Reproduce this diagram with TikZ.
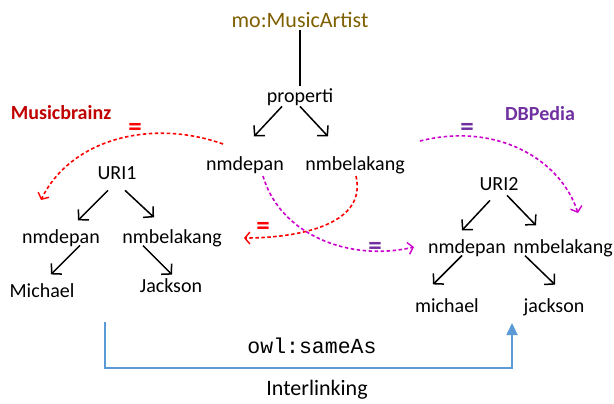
\documentclass[tikz,border=0pt]{standalone}
\usepackage{fontspec}
\setmainfont{Carlito}
\setmonofont{Liberation Mono}
\usetikzlibrary{arrows.meta}
\definecolor{olive}{RGB}{127,96,0}
\definecolor{mbred}{RGB}{192,0,0}
\definecolor{dbpurple}{RGB}{112,48,160}
\definecolor{linkblue}{RGB}{91,155,213}
\definecolor{magen}{RGB}{204,0,204}
\tikzset{
  lbl/.style={inner sep=0pt, anchor=base, font=\fontsize{20bp}{24bp}\selectfont},
  title/.style={inner sep=0pt, anchor=base, font=\bfseries\fontsize{20bp}{22bp}\selectfont},
  eqlbl/.style={inner sep=0pt, font=\bfseries\fontsize{27bp}{28bp}\selectfont},
  arr/.style={draw=black, line width=1.5bp, -{Straight Barb[length=7bp,width=15bp,line width=1.5bp]}},
  darr/.style={line width=1.6bp, dash pattern=on 3.5bp off 2.5bp, -{Straight Barb[length=5bp,width=12bp,line width=1.4bp]}},
}
\begin{document}
\begin{tikzpicture}[x=1bp,y=-1bp]
\useasboundingbox (0,0) rectangle (614,403);
% nodes
\node[lbl, text=olive, font=\fontsize{22bp}{26bp}\selectfont] (artist) at (300,27) {mo:MusicArtist};
\node[lbl] (prop) at (300,102) {properti};
\node[lbl] (tnd) at (245,170) {nmdepan};
\node[lbl] (tnb) at (355,170) {nmbelakang};
\node[title, text=mbred] (mb) at (61,119) {Musicbrainz};
\node[lbl] (uri1) at (117,179) {URI1};
\node[lbl] (lnd) at (61,243) {nmdepan};
\node[lbl] (lnb) at (172,243) {nmbelakang};
\node[lbl] (lmi) at (42,297) {Michael};
\node[lbl] (lja) at (171,292) {Jackson};
\node[title, text=dbpurple] (dbp) at (540,120) {DBPedia};
\node[lbl] (uri2) at (499,190) {URI2};
\node[lbl] (rnd) at (467,253) {nmdepan};
\node[lbl] (rnb) at (563,253) {nmbelakang};
\node[lbl] (rmi) at (447,312) {michael};
\node[lbl] (rja) at (554,312) {jackson};
\node[lbl, font=\ttfamily\fontsize{21.5bp}{24bp}\selectfont] (owl) at (312,353) {owl:sameAs};
\node[lbl, font=\fontsize{22bp}{26bp}\selectfont] (inter) at (317,395) {Interlinking};
% tree connectors
\draw[line width=1.5bp] ([yshift=-3bp]artist.south) -- ([yshift=2bp]prop.north);
\draw[arr] ([xshift=-18bp,yshift=-1bp]prop.south) -- ++(-28,30);
\draw[arr] ([xshift=0bp,yshift=-1bp]prop.south) -- ++(28,30);
\draw[arr] ([xshift=-9bp,yshift=-11bp]uri1.south) -- ++(-30,30);
\draw[arr] ([xshift=8bp,yshift=-11bp]uri1.south) -- ++(29,27);
\draw[arr] ([xshift=19bp,yshift=1bp]lnd.south) -- ++(-29,29);
\draw[arr] ([xshift=-29bp,yshift=1bp]lnb.south) -- ++(29,29);
\draw[arr] ([xshift=-9bp,yshift=-10bp]uri2.south) -- ++(-28,30);
\draw[arr] ([xshift=8bp,yshift=-5bp]uri2.south) -- ++(29,30);
\draw[arr] ([xshift=-5bp,yshift=1bp]rnd.south) -- ++(-29,29);
\draw[arr] ([xshift=-38bp,yshift=1bp]rnb.south) -- ++(30,29);
% dashed equivalences
\coordinate (a1) at (223,144);
\coordinate (b1) at (41,200);
\draw[darr, red] (a1) .. controls (150,118) and (70,140) .. (b1);
\coordinate (a2) at (356,176);
\coordinate (b2) at (244,238);
\draw[darr, red] (a2) .. controls (368,228) and (290,238) .. (b2);
\coordinate (a3) at (263,176);
\coordinate (b3) at (414,247);
\draw[darr, magen] (a3) .. controls (280,235) and (350,262) .. (b3);
\coordinate (a4) at (420,141);
\coordinate (b4) at (578,213);
\draw[darr, magen] (a4) .. controls (495,122) and (560,158) .. (b4);
\node[eqlbl, text=red] (e1) at (135,129) {=};
\node[eqlbl, text=red] (e2) at (263,228) {=};
\node[eqlbl, text=dbpurple] (e3) at (375,248) {=};
\node[eqlbl, text=dbpurple] (e4) at (467,129) {=};
% interlinking
\coordinate (s) at (105,322);
\draw[linkblue, line width=1.8bp, -{Triangle[length=12bp,width=11bp]}]
  (s) -- (105,368) -- (512,368) -- (512,323);
\end{tikzpicture}
\end{document}
